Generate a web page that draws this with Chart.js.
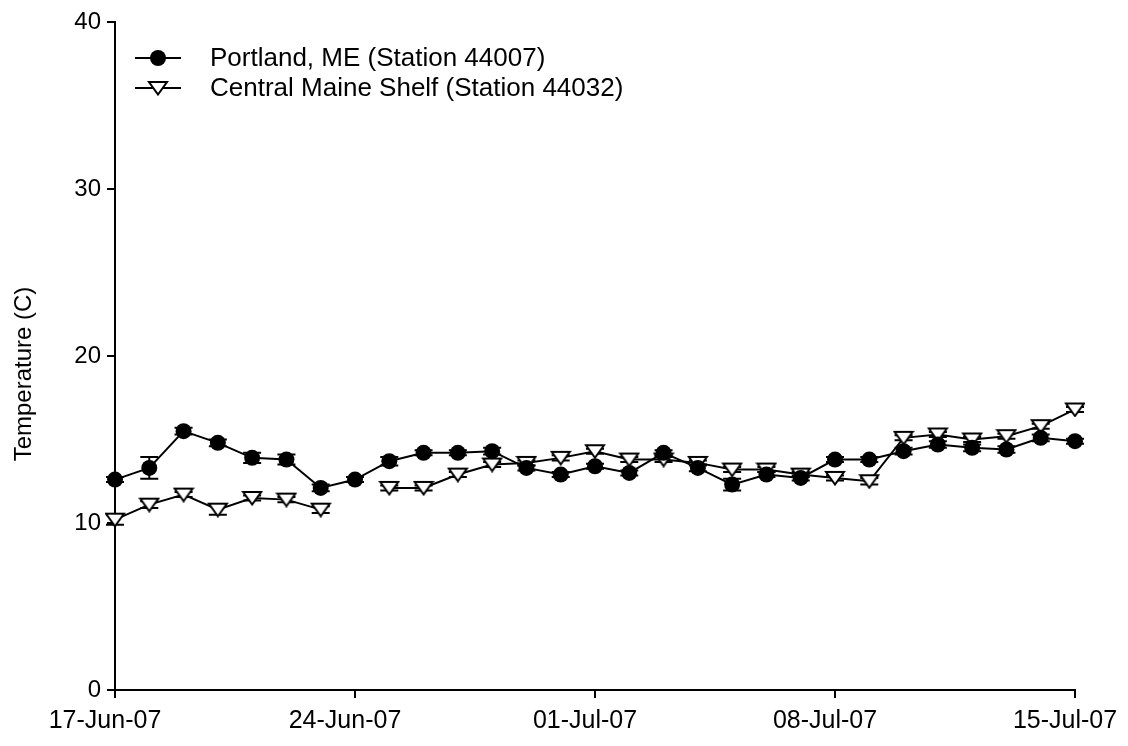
<!DOCTYPE html>
<html>
<head>
<meta charset="utf-8">
<script src="https://cdn.jsdelivr.net/npm/chart.js@4.4.1/dist/chart.umd.min.js"></script>
<style>
  body { margin: 0; background: #fff; }
  canvas { display: block; }
</style>
</head>
<body>
<canvas id="tempChart" width="1128" height="746"></canvas>
<script>
// daily buoy water temperature, 17 Jun - 15 Jul 2007
const days = [
  '17-Jun-07', '18-Jun-07', '19-Jun-07', '20-Jun-07', '21-Jun-07', '22-Jun-07', '23-Jun-07',
  '24-Jun-07', '25-Jun-07', '26-Jun-07', '27-Jun-07', '28-Jun-07', '29-Jun-07', '30-Jun-07',
  '01-Jul-07', '02-Jul-07', '03-Jul-07', '04-Jul-07', '05-Jul-07', '06-Jul-07', '07-Jul-07',
  '08-Jul-07', '09-Jul-07', '10-Jul-07', '11-Jul-07', '12-Jul-07', '13-Jul-07', '14-Jul-07',
  '15-Jul-07'
];
const tickLabels = ['17-Jun-07', '24-Jun-07', '01-Jul-07', '08-Jul-07', '15-Jul-07'];

const portlandLabel = 'Portland, ME (Station 44007)';
const portlandTemp = [
  12.6, 13.3, 15.5, 14.8, 13.9, 13.8, 12.1,
  12.6, 13.7, 14.2, 14.2, 14.3, 13.3, 12.9,
  13.4, 13.0, 14.2, 13.3, 12.3, 12.9, 12.7,
  13.8, 13.8, 14.3, 14.7, 14.5, 14.4, 15.1,
  14.9
];
const portlandErr = [
  0.15, 0.65, 0.2, 0.2, 0.3, 0.3, 0.2,
  0.15, 0.25, 0.15, 0.15, 0.2, 0.15, 0.15,
  0.15, 0.15, 0.15, 0.2, 0.35, 0.15, 0.15,
  0.15, 0.15, 0.2, 0.2, 0.2, 0.2, 0.2,
  0.15
];

const shelfLabel = 'Central Maine Shelf (Station 44032)';
const shelfTemp = [
  10.2, 11.1, 11.7, 10.8, 11.5, 11.4, 10.8,
  null, 12.1, 12.1, 12.9, 13.5, 13.6, 13.9,
  14.3, 13.8, 13.8, 13.6, 13.2, 13.2, 12.9,
  12.7, 12.5, 15.1, 15.3, 15.0, 15.2, 15.8,
  16.8
];
const shelfErr = [
  0.3, 0.2, 0.15, 0.3, 0.15, 0.15, 0.2,
  null, 0.15, 0.15, 0.15, 0.15, 0.15, 0.15,
  0.15, 0.15, 0.15, 0.15, 0.15, 0.15, 0.15,
  0.15, 0.2, 0.15, 0.15, 0.15, 0.15, 0.15,
  0.15
];

const yTicks = [0, 10, 20, 30, 40];
const yTitle = 'Temperature (C)';
const FONT = 'Liberation Sans, Arial, sans-serif';

// open downward triangle, a bit wider than it is tall
const triMark = document.createElement('canvas');
triMark.width = 22;
triMark.height = 16;
(function () {
  const c = triMark.getContext('2d');
  c.beginPath();
  c.moveTo(2, 2);
  c.lineTo(20, 2);
  c.lineTo(11, 14.5);
  c.closePath();
  c.fillStyle = '#fff';
  c.fill();
  c.lineWidth = 2;
  c.strokeStyle = '#000';
  c.stroke();
})();

// vertical error bars with caps, drawn under the lines and markers
const errorBars = {
  id: 'errorBars',
  beforeDatasetsDraw(chart) {
    const ctx = chart.ctx;
    const x = chart.scales.x, y = chart.scales.y;
    ctx.save();
    ctx.strokeStyle = '#000';
    ctx.lineWidth = 2;
    chart.data.datasets.forEach(ds => {
      ds.data.forEach((v, i) => {
        const e = ds.errors[i];
        if (v === null || !e) return;
        const px = x.getPixelForValue(i);
        const top = y.getPixelForValue(v + e);
        const bot = y.getPixelForValue(v - e);
        ctx.beginPath();
        ctx.moveTo(px, top); ctx.lineTo(px, bot);
        ctx.moveTo(px - 9, top); ctx.lineTo(px + 9, top);
        ctx.moveTo(px - 9, bot); ctx.lineTo(px + 9, bot);
        ctx.stroke();
      });
    });
    ctx.restore();
  }
};

// legend inside the plot (line with marker, then name) and the y title
const lineLegend = {
  id: 'lineLegend',
  afterDraw(chart) {
    const ctx = chart.ctx;
    ctx.save();
    chart.data.datasets.forEach((ds, k) => {
      const cy = 58 + k * 30;
      ctx.strokeStyle = '#000';
      ctx.lineWidth = 2;
      ctx.beginPath();
      ctx.moveTo(135, cy); ctx.lineTo(181, cy);
      ctx.stroke();
      if (ds.pointStyle === triMark) {
        ctx.drawImage(triMark, 158 - triMark.width / 2, cy - triMark.height / 2);
      } else {
        ctx.fillStyle = '#000';
        ctx.beginPath();
        ctx.arc(158, cy, ds.pointRadius, 0, Math.PI * 2);
        ctx.fill();
      }
      ctx.fillStyle = '#000';
      ctx.font = '26px ' + FONT;
      ctx.textBaseline = 'middle';
      ctx.fillText(ds.label, 210, cy + 1);
    });

    ctx.translate(24, 374);
    ctx.rotate(-Math.PI / 2);
    ctx.font = '24px ' + FONT;
    ctx.textAlign = 'center';
    ctx.textBaseline = 'middle';
    ctx.fillStyle = '#000';
    ctx.fillText(yTitle, 0, 0);
    ctx.restore();
  }
};

new Chart(document.getElementById('tempChart').getContext('2d'), {
  type: 'line',
  data: {
    labels: days,
    datasets: [
      {
        label: portlandLabel,
        data: portlandTemp,
        errors: portlandErr,
        borderColor: '#000',
        borderWidth: 2,
        pointStyle: 'circle',
        pointRadius: 8,
        pointBackgroundColor: '#000',
        pointBorderColor: '#000',
        pointBorderWidth: 0,
        tension: 0,
        spanGaps: false
      },
      {
        label: shelfLabel,
        data: shelfTemp,
        errors: shelfErr,
        borderColor: '#000',
        borderWidth: 2,
        pointStyle: triMark,
        pointRadius: 8,
        tension: 0,
        spanGaps: false
      }
    ]
  },
  options: {
    responsive: false,
    animation: false,
    events: [],
    layout: { padding: { left: 0, right: 53, top: 22, bottom: 0 } },
    plugins: {
      legend: { display: false },
      tooltip: { enabled: false }
    },
    scales: {
      x: {
        type: 'category',
        offset: false,
        afterFit: s => {
          s.height = 56;
          s.paddingLeft = 0;
          s.paddingRight = 0;
        },
        border: { display: true, color: '#000', width: 2 },
        grid: {
          display: true,
          drawOnChartArea: false,
          drawTicks: true,
          tickLength: 8,
          color: '#000',
          lineWidth: 2
        },
        ticks: {
          autoSkip: false,
          maxRotation: 0,
          padding: 8,
          labelOffset: -10,
          color: '#000',
          font: { family: FONT, size: 25 },
          callback: (v, i) => (i % 7 === 0 ? tickLabels[i / 7] : null)
        }
      },
      y: {
        min: 0,
        max: 40,
        afterFit: s => { s.width = 115; },
        afterBuildTicks: s => { s.ticks = yTicks.map(v => ({ value: v })); },
        border: { display: true, color: '#000', width: 2 },
        grid: {
          display: true,
          drawOnChartArea: false,
          drawTicks: true,
          tickLength: 8,
          color: '#000',
          lineWidth: 2
        },
        ticks: {
          padding: 6,
          color: '#000',
          font: { family: FONT, size: 24 }
        }
      }
    }
  },
  plugins: [errorBars, lineLegend]
});
</script>
</body>
</html>
